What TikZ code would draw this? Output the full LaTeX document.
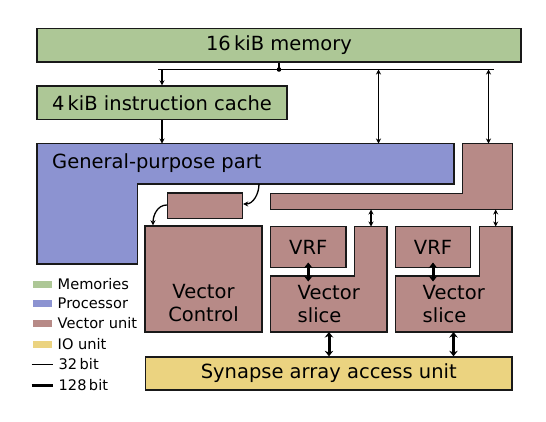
\documentclass[tikz,border=0pt]{standalone}
\usepackage{fontspec}
\setmainfont{DejaVu Sans}
\usetikzlibrary{arrows.meta}
\definecolor{memc}{RGB}{173,199,150}
\definecolor{procc}{RGB}{140,147,209}
\definecolor{vecc}{RGB}{183,138,135}
\definecolor{ioc}{RGB}{235,211,128}
\tikzset{
  unitbox/.style={draw=black!90, line width=1.4pt, inner sep=0pt, minimum width=#1},
  lshape/.style={draw=black!90, line width=1.4pt},
  big/.style={font=\fontsize{19.5}{23.5}\selectfont},
  small/.style={font=\fontsize{14.6}{17}\selectfont},
  thin/.style={line width=1.3pt},
  thick128/.style={line width=3pt},
  tipthin/.tip={Stealth[length=5pt,width=5pt]},
  tipthick/.tip={Stealth[length=5.5pt,width=8.5pt]},
  swatch/.style={minimum width=19pt, minimum height=7pt, inner sep=0pt},
}
\begin{document}
\begin{tikzpicture}[x=1pt,y=-1pt]
\useasboundingbox (0,0) rectangle (546,421);
% memories
\node[unitbox=484pt, minimum height=33.5pt, fill=memc, big] (mem) at (279,45.25) {16\,kiB memory};
\node[unitbox=250pt, minimum height=33.5pt, fill=memc, big] (cache) at (162,102.75) {4\,kiB instruction cache};
% general-purpose part (L shape)
\draw[lshape, fill=procc] (37,143.5) -- (454,143.5) -- (454,184) -- (137.5,184) -- (137.5,264) -- (37,264) -- cycle;
\node[big, anchor=base west, inner sep=0pt] (gp) at (52,168) {General-purpose part};
% vector unit top L
\draw[lshape, fill=vecc] (462.5,143.5) -- (512.5,143.5) -- (512.5,209.5) -- (270.5,209.5) -- (270.5,193.5) -- (462.5,193.5) -- cycle;
% small box
\node[unitbox=75pt, minimum height=25.5pt, fill=vecc] (sb) at (205,205.75) {};
% vector control
\node[unitbox=117pt, minimum height=106pt, fill=vecc] (vc) at (203.5,279) {};
\node[big, align=center, inner sep=0pt] (vct) at (203.5,303) {Vector\\Control};
% slice 1
\node[unitbox=75.5pt, minimum height=41pt, fill=vecc, big] (vrf1) at (308.25,247) {VRF};
\draw[lshape, fill=vecc] (354.5,226.5) -- (387,226.5) -- (387,332) -- (270.5,332) -- (270.5,276) -- (354.5,276) -- cycle;
\node[big, align=left, inner sep=0pt] (vs1) at (328.75,304) {Vector\\slice};
% slice 2
\node[unitbox=75.5pt, minimum height=41pt, fill=vecc, big] (vrf2) at (433,247) {VRF};
\draw[lshape, fill=vecc] (479.5,226.5) -- (512,226.5) -- (512,332) -- (395.5,332) -- (395.5,276) -- (479.5,276) -- cycle;
\node[big, align=left, inner sep=0pt] (vs2) at (453.75,304) {Vector\\slice};
% synapse array
\node[unitbox=366.5pt, minimum height=33pt, fill=ioc, big] (syn) at (328.75,373.5) {Synapse array access unit};

% coordinates
\coordinate (stub) at (279,69.5);
\coordinate (busL) at (158,69.5);
\coordinate (busR) at (494,69.5);
\coordinate (b1) at (162,69.5);
\coordinate (b2) at (378.5,69.5);
\coordinate (b3) at (488.5,69.5);
\coordinate (gpt1) at (162,143.5);
\coordinate (gpt2) at (378.5,143.5);
\coordinate (vut) at (488.5,143.5);
\coordinate (gpb) at (259,184);
\coordinate (bar1) at (371,209.5);
\coordinate (bar2) at (495.7,209.5);
\coordinate (s1t) at (371,226.5);
\coordinate (s2t) at (495.7,226.5);
\coordinate (v1a) at (308.25,262.5);
\coordinate (v1b) at (308.25,281.5);
\coordinate (v2a) at (433,262.5);
\coordinate (v2b) at (433,281.5);
\coordinate (s1b) at (329,332);
\coordinate (s2b) at (453.5,332);

% bus
\draw[thin] (mem.south -| stub) -- (stub);
\draw[thin] (busL) -- (busR);
\fill (stub) circle (2.3pt);
\draw[thin, -tipthin] (b1) -- (cache.north -| b1);
\draw[thin, tipthin-tipthin] (b2) -- (gpt2);
\draw[thin, tipthin-tipthin] (b3) -- (vut);
\draw[thin, -tipthin] (cache.south -| gpt1) -- (gpt1);
% curved arrows
\draw[thin, -tipthin] (gpb) to[out=-90,in=0] (sb.east |- 0,204);
\draw[thin, -tipthin] (sb.west |- 0,205) to[out=180,in=90] (vc.north -| 153,0);
% bar to slices
\draw[thin, tipthin-tipthin] (bar1) -- (s1t);
\draw[thin, tipthin-tipthin] (bar2) -- (s2t);
% 128-bit
\draw[thick128, tipthick-tipthick] (v1a) -- (v1b);
\draw[thick128, tipthick-tipthick] (v2a) -- (v2b);
\draw[thick128, tipthick-tipthick] (s1b) -- (syn.north -| s1b);
\draw[thick128, tipthick-tipthick] (s2b) -- (syn.north -| s2b);

% legend
\node[swatch, fill=memc] (lm) at (42,284) {};
\node[swatch, fill=procc] (lp) at (42,303.5) {};
\node[swatch, fill=vecc] (lv) at (42,323.5) {};
\node[swatch, fill=ioc] (li) at (42,344) {};
\coordinate (l32a) at (31.5,364.5);
\coordinate (l32b) at (52.5,364.5);
\coordinate (l128a) at (31.5,385);
\coordinate (l128b) at (52.5,385);
\draw[thin] (l32a) -- (l32b);
\draw[line width=3pt] (l128a) -- (l128b);
\node[small, anchor=west, inner sep=0pt] (tm) at (57.5,284) {Memories};
\node[small, anchor=west, inner sep=0pt] (tp) at (57.5,303.5) {Processor};
\node[small, anchor=west, inner sep=0pt] (tv) at (57.5,323.5) {Vector unit};
\node[small, anchor=west, inner sep=0pt] (ti) at (57.5,344) {IO unit};
\node[small, anchor=west, inner sep=0pt] (t32) at (58.5,364.5) {32\,bit};
\node[small, anchor=west, inner sep=0pt] (t128) at (58.5,385) {128\,bit};
\end{tikzpicture}
\end{document}
